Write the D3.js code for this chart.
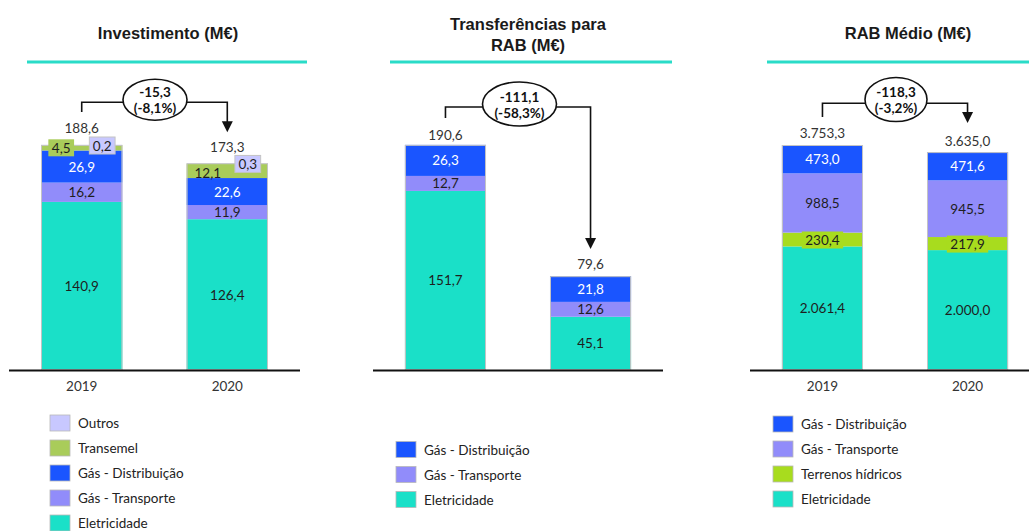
<!DOCTYPE html>
<html>
<head>
<meta charset="utf-8">
<script src="https://cdn.jsdelivr.net/npm/d3@7/dist/d3.min.js"></script>
<style>
  html, body { margin: 0; padding: 0; background: #ffffff; }
  svg { display: block; }
  text { font-family: Lato, "Open Sans", sans-serif; }
  .title { font-family: "Liberation Sans", Arial, sans-serif; font-weight: bold; font-size: 16.5px; fill: #1a1a1a; }
</style>
</head>
<body>
<svg id="chart" width="1029" height="531"></svg>
<script>
// ---- Data ----
const years = ["2019", "2020"];

// Investimento (M€)
const invEletricidade = [140.9, 126.4];
const invGasTransporte = [16.2, 11.9];
const invGasDistribuicao = [26.9, 22.6];
const invTransemel = [4.5, 12.1];
const invOutros = [0.2, 0.3];
const invTotais = [188.6, 173.3];
const invVariacao = ["-15,3", "(-8,1%)"];

// Transferências para RAB (M€)
const trfEletricidade = [151.7, 45.1];
const trfGasTransporte = [12.7, 12.6];
const trfGasDistribuicao = [26.3, 21.8];
const trfTotais = [190.6, 79.6];
const trfVariacao = ["-111,1", "(-58,3%)"];

// RAB Médio (M€)
const rabEletricidade = [2061.4, 2000.0];
const rabTerrenosHidricos = [230.4, 217.9];
const rabGasTransporte = [988.5, 945.5];
const rabGasDistribuicao = [473.0, 471.6];
const rabTotais = [3753.3, 3635.0];
const rabVariacao = ["-118,3", "(-3,2%)"];

// ---- Styling ----
const colors = {
  "Eletricidade": "#1ae0c8",
  "Gás - Transporte": "#918cfa",
  "Gás - Distribuição": "#1a55ff",
  "Transemel": "#a9cc5a",
  "Outros": "#c8c8ff",
  "Terrenos hídricos": "#a8dc1e"
};
const whiteText = new Set(["Gás - Distribuição"]);

const pt = d3.formatLocale({ decimal: ",", thousands: ".", grouping: [3], currency: ["", "€"] });
const fmt = pt.format(",.1f");

const svg = d3.select("#chart");

function panel(cfg) {
  const g = svg.append("g");
  const rows = years.map((yr, i) => {
    const r = { year: yr };
    cfg.series.forEach(s => { r[s.name] = s.values[i]; });
    return r;
  });
  const keys = cfg.series.map(s => s.name);
  const stacked = d3.stack().keys(keys)(rows);

  const x = d3.scaleBand().domain(years).range(cfg.xRange)
    .paddingInner(0.441).paddingOuter(0.22);
  const y = d3.scaleLinear().domain([0, d3.max(cfg.totals)]).range([370, 145]);

  // title + underline
  cfg.title.forEach((t, i) => {
    g.append("text").attr("class", "title")
      .attr("x", cfg.titleX).attr("y", cfg.titleY + i * 21)
      .attr("text-anchor", "middle").attr("dominant-baseline", "central")
      .text(t);
  });
  g.append("line")
    .attr("x1", cfg.rule[0]).attr("x2", cfg.rule[1])
    .attr("y1", 62).attr("y2", 62)
    .attr("stroke", "#2adcc8").attr("stroke-width", 3);

  // stacked segments
  stacked.forEach(layer => {
    g.append("g").selectAll("rect").data(layer).join("rect")
      .attr("x", d => x(d.data.year))
      .attr("width", x.bandwidth())
      .attr("y", d => y(d[1]))
      .attr("height", d => y(d[0]) - y(d[1]))
      .attr("fill", colors[layer.key]);
  });
  // thin bar outline
  g.append("g").selectAll("rect").data(stacked[stacked.length - 1]).join("rect")
    .attr("x", d => x(d.data.year) + 0.5)
    .attr("width", x.bandwidth() - 1)
    .attr("y", d => y(d[1]) + 0.5)
    .attr("height", d => y(0) - y(d[1]) - 1)
    .attr("fill", "none").attr("stroke", "#c4c4c4").attr("stroke-width", 1);

  // segment labels
  stacked.forEach(layer => {
    layer.forEach((d, i) => {
      const call = (cfg.callouts[layer.key] || [])[i] || { dx: 0, dy: 0, box: false };
      const cx = x(d.data.year) + x.bandwidth() / 2 + call.dx;
      const cy = (y(d[0]) + y(d[1])) / 2 + call.dy;
      const lg = g.append("g");
      const t = lg.append("text")
        .attr("x", cx).attr("y", cy)
        .attr("text-anchor", "middle").attr("dominant-baseline", "central")
        .attr("font-size", "13.5px")
        .attr("fill", whiteText.has(layer.key) ? "#ffffff" : "#1e1e1e")
        .text(fmt(d.data[layer.key]));
      if (call.box) {
        const w = t.node().getComputedTextLength() + 7;
        lg.insert("rect", "text")
          .attr("x", cx - w / 2).attr("y", cy - 8.5)
          .attr("width", w).attr("height", 17)
          .attr("fill", colors[layer.key])
          .attr("stroke", call.stroke ? "#c4c4c4" : "none");
      }
    });
  });

  // totals
  g.append("g").selectAll("text").data(years).join("text")
    .attr("x", d => x(d) + x.bandwidth() / 2)
    .attr("y", (d, i) => y(cfg.totals[i]) - cfg.totalOffset[i])
    .attr("text-anchor", "middle").attr("dominant-baseline", "central")
    .attr("font-size", "13.5px").attr("fill", "#333333")
    .text((d, i) => fmt(cfg.totals[i]));

  // baseline
  g.append("line")
    .attr("x1", cfg.xRange[0]).attr("x2", cfg.xRange[1])
    .attr("y1", 370.5).attr("y2", 370.5)
    .attr("stroke", "#111").attr("stroke-width", 2);

  if (cfg.showYears) {
    const ax = g.append("g").attr("transform", "translate(0,371)")
      .call(d3.axisBottom(x).tickSize(0).tickPadding(10));
    ax.select(".domain").remove();
    ax.selectAll("text").attr("font-size", "13.5px").attr("fill", "#333333")
      .attr("font-family", "Lato, sans-serif");
  }

  // variation bracket
  const xa = x(years[0]) + x.bandwidth() / 2;
  const xb = x(years[1]) + x.bandwidth() / 2;
  const a = cfg.bracket;
  const yStart = y(cfg.totals[0]) - a.startGap;
  const yTip = y(cfg.totals[1]) - a.tipGap;
  const ex = (xa + xb) / 2 + a.dx;
  g.append("path")
    .attr("d", `M${xa},${yStart}V${a.y}H${xb}V${yTip - 9}`)
    .attr("fill", "none").attr("stroke", "#111").attr("stroke-width", 1.6);
  g.append("path")
    .attr("d", `M${xb - 5.5},${yTip - 11}L${xb + 5.5},${yTip - 11}L${xb},${yTip}Z`)
    .attr("fill", "#111");
  g.append("ellipse")
    .attr("cx", ex).attr("cy", a.cy).attr("rx", a.rx).attr("ry", a.ry)
    .attr("fill", "#fff").attr("stroke", "#111").attr("stroke-width", 1.6);
  cfg.variation.forEach((t, i) => {
    g.append("text")
      .attr("x", ex).attr("y", a.cy - 7.5 + i * 16)
      .attr("text-anchor", "middle").attr("dominant-baseline", "central")
      .attr("font-size", "13.5px").attr("font-weight", "bold").attr("fill", "#111")
      .text(t);
  });

  // legend
  const lg = g.append("g");
  cfg.legend.items.forEach((name, i) => {
    const yy = cfg.legend.y + i * 25;
    lg.append("rect")
      .attr("x", cfg.legend.x).attr("y", yy - 8)
      .attr("width", 20).attr("height", 16)
      .attr("fill", colors[name]).attr("stroke", "#b8b8b8").attr("stroke-width", 0.8);
    lg.append("text")
      .attr("x", cfg.legend.x + 28).attr("y", yy)
      .attr("dominant-baseline", "central")
      .attr("font-size", "13.5px").attr("fill", "#222")
      .text(name);
  });
}

panel({
  title: ["Investimento (M€)"], titleX: 168, titleY: 33,
  rule: [27, 307],
  xRange: [9, 300],
  series: [
    { name: "Eletricidade", values: invEletricidade },
    { name: "Gás - Transporte", values: invGasTransporte },
    { name: "Gás - Distribuição", values: invGasDistribuicao },
    { name: "Transemel", values: invTransemel },
    { name: "Outros", values: invOutros }
  ],
  totals: invTotais,
  totalOffset: [17, 16],
  callouts: {
    "Transemel": [{ dx: -20.5, dy: 0, box: true }, { dx: -19.5, dy: 2, box: false }],
    "Outros": [{ dx: 20.5, dy: 0.5, box: true, stroke: true }, { dx: 20.5, dy: 0.5, box: true, stroke: true }]
  },
  showYears: true,
  variation: invVariacao,
  bracket: { y: 102.3, startGap: 33, tipGap: 31, cy: 99.7, rx: 32, ry: 20.5, dx: 0.5 },
  legend: { x: 50, y: 423, items: ["Outros", "Transemel", "Gás - Distribuição", "Gás - Transporte", "Eletricidade"] }
});

panel({
  title: ["Transferências para", "RAB (M€)"], titleX: 528, titleY: 24,
  rule: [390, 672],
  xRange: [373, 663],
  series: [
    { name: "Eletricidade", values: trfEletricidade },
    { name: "Gás - Transporte", values: trfGasTransporte },
    { name: "Gás - Distribuição", values: trfGasDistribuicao }
  ],
  totals: trfTotais,
  totalOffset: [10, 12],
  callouts: {},
  showYears: false,
  variation: trfVariacao,
  bracket: { y: 107, startGap: 27, tipGap: 27, cy: 104, rx: 37, ry: 22, dx: 1.5 },
  legend: { x: 396, y: 449.5, items: ["Gás - Distribuição", "Gás - Transporte", "Eletricidade"] }
});

panel({
  title: ["RAB Médio (M€)"], titleX: 908, titleY: 33,
  rule: [767, 1029],
  xRange: [750, 1040],
  series: [
    { name: "Eletricidade", values: rabEletricidade },
    { name: "Terrenos hídricos", values: rabTerrenosHidricos },
    { name: "Gás - Transporte", values: rabGasTransporte },
    { name: "Gás - Distribuição", values: rabGasDistribuicao }
  ],
  totals: rabTotais,
  totalOffset: [12, 11],
  callouts: {
    "Terrenos hídricos": [{ dx: 0, dy: 0.5, box: true }, { dx: 0, dy: 0.5, box: true }]
  },
  showYears: true,
  variation: rabVariacao,
  bracket: { y: 103.3, startGap: 28, tipGap: 29, cy: 99.5, rx: 31, ry: 22, dx: 1 },
  legend: { x: 773, y: 424, items: ["Gás - Distribuição", "Gás - Transporte", "Terrenos hídricos", "Eletricidade"] }
});
</script>
</body>
</html>
